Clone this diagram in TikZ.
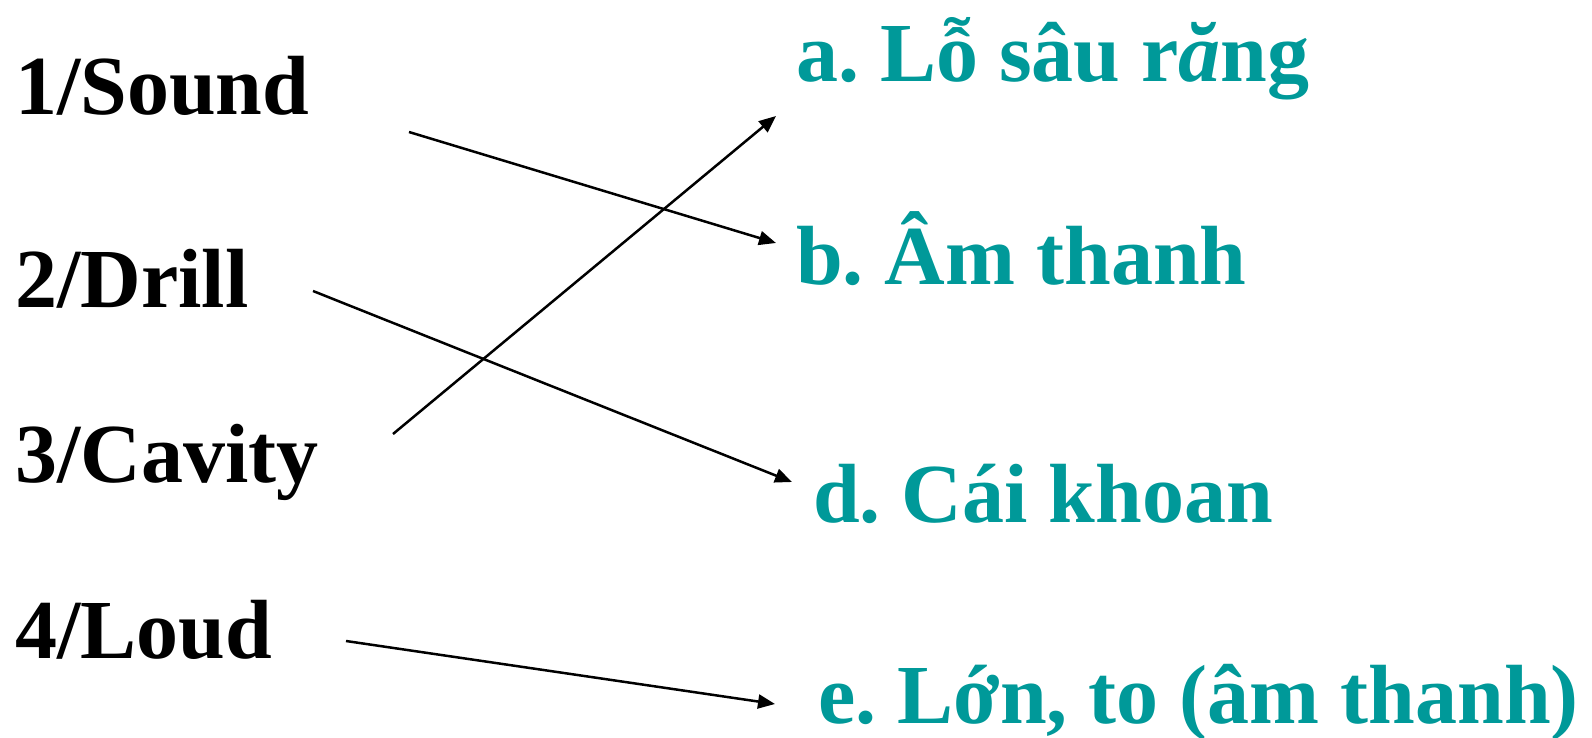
\documentclass[tikz,border=0pt]{standalone}
\usepackage{fontspec}
\setmainfont{Liberation Serif}
\usetikzlibrary{arrows.meta}
\definecolor{tealtxt}{HTML}{009999}
\frenchspacing
\tikzset{
  lefttxt/.style={anchor=base west, inner sep=0pt, font=\fontsize{84}{84}\selectfont\bfseries\frenchspacing, text=black},
  righttxt/.style={anchor=base west, inner sep=0pt, font=\fontsize{84}{84}\selectfont\bfseries\frenchspacing, text=tealtxt},
  link/.style={line width=2.5pt, -{Triangle[length=17pt,width=14pt]}}
}
\begin{document}
\begin{tikzpicture}[x=1pt,y=-1pt]
\useasboundingbox (0,0) rectangle (1592,738);
\node[lefttxt] (l1) at (15,115) {1/Sound};
\node[lefttxt] (l2) at (15,307) {2/Drill};
\node[lefttxt] (l3) at (15,482) {3/Cavity};
\node[lefttxt] (l4) at (15,658) {4/Loud};
\node[righttxt] (ra) at (796,82) {a. Lỗ sâu r{\itshape ă}ng};
\node[righttxt] (rb) at (796,284) {b. Âm thanh};
\node[righttxt] (rd) at (813,522) {d. Cái khoan};
\node[righttxt] (re) at (818,723) {e. Lớn, to (âm thanh)};
\coordinate (s1) at (409,132);
\coordinate (s2) at (313,291);
\coordinate (s3) at (393,434);
\coordinate (s4) at (346,641);
\coordinate (ta) at (776,116);
\coordinate (tb) at (776,243);
\coordinate (td) at (792,482);
\coordinate (te) at (775,704);
\draw[link] (s1) -- (tb);
\draw[link] (s2) -- (td);
\draw[link] (s3) -- (ta);
\draw[link] (s4) -- (te);
\end{tikzpicture}
\end{document}
